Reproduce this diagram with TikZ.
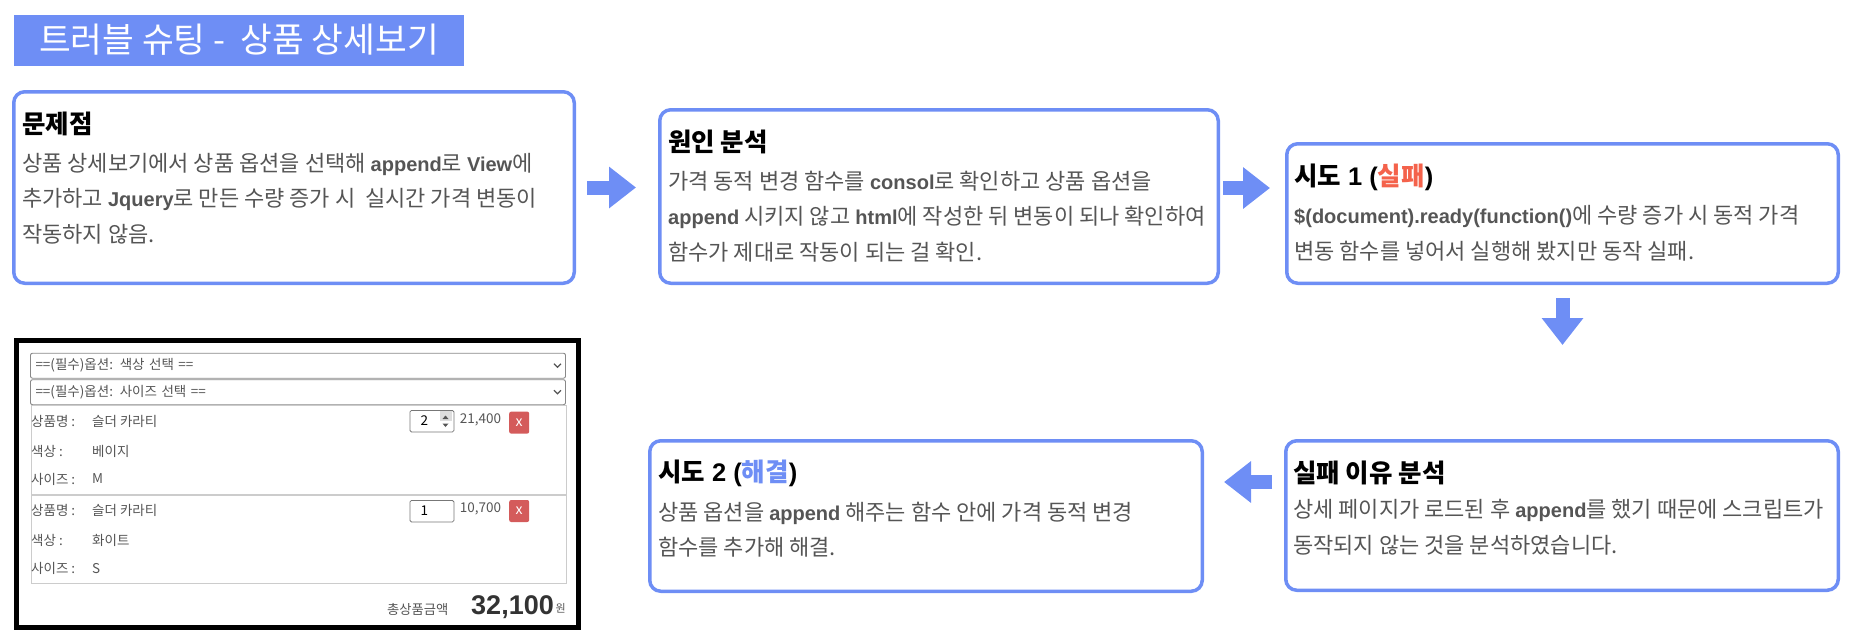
\documentclass[tikz,border=0pt]{standalone}
\usepackage{fontspec}
\setmainfont{Noto Sans CJK KR}
\newfontfamily\latin{Liberation Sans}[Scale=0.91]
\usepackage{tikz}
\usetikzlibrary{arrows.meta}
\definecolor{azul}{HTML}{6E8EF5}
\definecolor{rojo}{HTML}{F4624B}
\definecolor{gris}{HTML}{555555}
\definecolor{borde}{HTML}{CCCCCC}
\definecolor{boton}{HTML}{D45B5B}
\newcommand{\eng}[1]{{\latin\bfseries #1}}
\newcommand{\engt}[1]{{\latin\bfseries\fontsize{28}{30}\selectfont #1}}

\begin{document}
\begin{tikzpicture}[
  x=1pt, y=-1pt,
  caja/.style={draw=azul, line width=3.5pt, rounded corners=11pt, inner sep=0pt, anchor=north west},
  titulo/.style={anchor=base west, inner sep=0pt, font=\fontsize{25.5}{30}\selectfont\bfseries},
  cuerpo/.style={anchor=base west, inner sep=0pt, align=left, text=gris, font=\fontsize{22}{35.5}\selectfont},
  flecha/.style={azul, line width=14pt, -{Triangle[length=27pt, width=40pt]}},
  selector/.style={draw=gris!70, line width=0.9pt, rounded corners=2pt, minimum height=25pt, text width=525pt, inner xsep=5pt, align=left, text=gris, font=\fontsize{13.5}{15}\selectfont},
  item/.style={draw=borde, line width=1.3pt, anchor=north west, minimum width=535pt, inner sep=0pt},
  etiq/.style={anchor=west, inner sep=0pt, text=gris, font=\fontsize{13.5}{15}\selectfont},
  cant/.style={draw=gris!80, line width=0.8pt, rounded corners=1.5pt, anchor=north west, minimum width=44pt, minimum height=21.5pt, inner sep=0pt},
  boton/.style={fill=boton, rounded corners=2pt, minimum width=20pt, minimum height=22pt, inner sep=0pt, text=white, font=\fontsize{14}{16}\selectfont}
]
  \useasboundingbox (0,0) rectangle (1857,641);

  % titulo
  \node[fill=azul, minimum width=450pt, minimum height=51pt, inner sep=0pt, text=white, font=\fontsize{34.5}{38}\selectfont] (banner) at (239,40) {트러블 슈팅 -~ 상품 상세보기};

  % cajas
  \node[caja, minimum width=560.5pt, minimum height=191.5pt] (b1) at (12,90) {};
  \node[caja, minimum width=558.5pt, minimum height=173.5pt] (b2) at (658,108) {};
  \node[caja, minimum width=551.5pt, minimum height=139.5pt] (b3) at (1285,142) {};
  \node[caja, minimum width=552.5pt, minimum height=150.5pt] (b4) at (648,439) {};
  \node[caja, minimum width=552.5pt, minimum height=149.5pt] (b5) at (1284,439) {};

  % textos (base = ultima linea)
  \node[titulo] (tt1) at (22,133.2) {문제점};
  \node[cuerpo] (tb1) at (22,242.4) {상품 상세보기에서 상품 옵션을 선택해 \eng{append}로 \eng{View}에\\추가하고 \eng{Jquery}로 만든 수량 증가 시~ 실시간 가격 변동이\\작동하지 않음.};

  \node[titulo] (tt2) at (668,151.5) {원인 분석};
  \node[cuerpo] (tb2) at (668,260.4) {가격 동적 변경 함수를 \eng{consol}로 확인하고 상품 옵션을\\\eng{append} 시키지 않고 \eng{html}에 작성한 뒤 변동이 되나 확인하여\\함수가 제대로 작동이 되는 걸 확인.};

  \node[titulo] (tt3) at (1294,185.3) {시도\engt{\ 1 (}{\color{rojo}실패}\engt{)}};
  \node[cuerpo] (tb3) at (1294,259.4) {\eng{\$(document).ready(function()}에 수량 증가 시 동적 가격\\변동 함수를 넣어서 실행해 봤지만 동작 실패.};

  \node[titulo] (tt4) at (658,481.7) {시도\engt{\ 2 (}{\color{azul}해결}\engt{)}};
  \node[cuerpo] (tb4) at (658,555.5) {상품 옵션을 \eng{append} 해주는 함수 안에 가격 동적 변경\\함수를 추가해 해결.};

  \node[titulo] (tt5) at (1293,482.7) {실패 이유 분석};
  \node[cuerpo] (tb5) at (1293,553) {상세 페이지가 로드된 후 \eng{append}를 했기 때문에 스크립트가\\동작되지 않는 것을 분석하였습니다.};

  % flechas
  \draw[flecha] ([xshift=11pt]b1.east) -- ([xshift=60pt]b1.east);
  \draw[flecha] ([xshift=3pt,yshift=8.5pt]b2.east) -- ([xshift=50pt,yshift=8.5pt]b2.east);
  \draw[flecha] ([yshift=-13pt]b3.south) -- ([yshift=-60pt]b3.south);
  \draw[flecha] ([xshift=-12pt,yshift=33.5pt]b5.west) -- ([xshift=-60pt,yshift=33.5pt]b5.west);

  % captura
  \node[draw, line width=5pt, anchor=north west, minimum width=562pt, minimum height=287pt, inner sep=0pt] (cap) at (14,338) {};
  \node[selector] (s1) at (298,365.7) {==(필수)옵션: 색상 선택 ==};
  \node[selector] (s2) at (298,392.2) {==(필수)옵션: 사이즈 선택 ==};
  \draw[gris, line width=1.2pt] ([xshift=-12pt,yshift=2pt]s1.east) -- ++(3.5,3.5) -- ++(3.5,-3.5);
  \draw[gris, line width=1.2pt] ([xshift=-12pt,yshift=2pt]s2.east) -- ++(3.5,3.5) -- ++(3.5,-3.5);

  \node[item, minimum height=88.5pt] (i1) at (30.5,405) {};
  \node[item, minimum height=88pt] (i2) at (30.5,494.5) {};

  \node[etiq] (l11) at (31,421.7) {상품명 :};
  \node[etiq] (v11) at (92,421.7) {슬더 카라티};
  \node[etiq] (l12) at (31,451.7) {색상 :};
  \node[etiq] (v12) at (92,451.7) {베이지};
  \node[etiq] (l13) at (31,479) {사이즈 :};
  \node[etiq] (v13) at (92,479) {M};

  \node[etiq] (l21) at (31,510.5) {상품명 :};
  \node[etiq] (v21) at (92,510.5) {슬더 카라티};
  \node[etiq] (l22) at (31,540.4) {색상 :};
  \node[etiq] (v22) at (92,540.4) {화이트};
  \node[etiq] (l23) at (31,568.6) {사이즈 :};
  \node[etiq] (v23) at (92,568.6) {S};

  \node[cant] (q1) at (409.5,410) {};
  \fill[gris!20] (439.5,411) rectangle (451.5,421);
  \fill[gris] (442.5,419) -- (445.5,415.5) -- (448.5,419) -- cycle;
  \fill[gris] (442.5,423.5) -- (445.5,427) -- (448.5,423.5) -- cycle;
  \node[etiq, anchor=center, text=black] (n1) at (424.3,421) {2};
  \node[etiq, anchor=center] (p1) at (480.5,420) {21,400};
  \node[boton] (x1) at (519.2,422.6) {x};

  \node[cant] (q2) at (409.5,500) {};
  \node[etiq, anchor=center, text=black] (n2) at (424.3,510.7) {1};
  \node[etiq, anchor=center] (p2) at (480.5,509) {10,700};
  \node[boton] (x2) at (519.2,511) {x};

  \node[etiq, anchor=center, font=\fontsize{13.3}{15}\selectfont] (tot) at (417.8,609.3) {총상품금액};
  \node[anchor=base west, inner sep=0pt, text=black!80, font=\fontsize{29.7}{32}\selectfont\latin\bfseries] (suma) at (471,614.7) {32,100};
  \node[anchor=base west, inner sep=0pt, text=gris, font=\fontsize{11}{12}\selectfont] (won) at (555.5,612.5) {원};
\end{tikzpicture}
\end{document}
